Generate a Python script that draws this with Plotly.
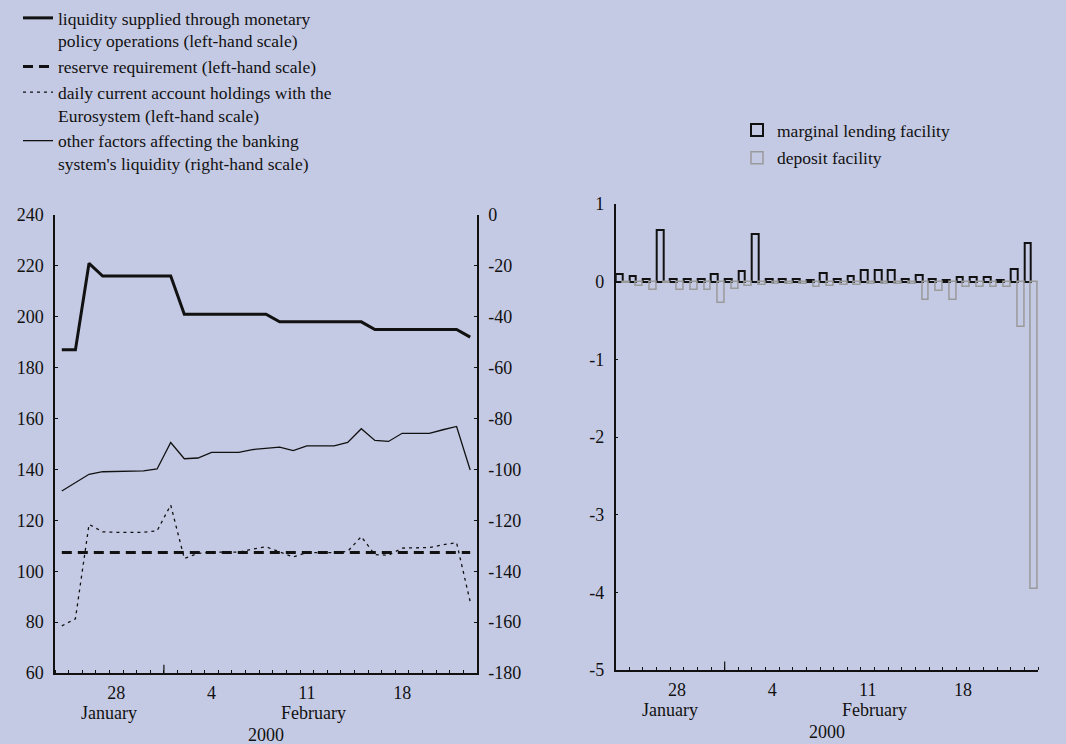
import plotly.graph_objects as go
import pandas as pd

# ---------------- data ----------------
dates = pd.date_range("2000-01-24", "2000-02-23", freq="D")

# left-hand scale (EUR billions)
liquidity_supplied = [187, 187, 221, 216, 216, 216, 216, 216, 216, 201, 201, 201, 201, 201, 201, 201,
                      198, 198, 198, 198, 198, 198, 198, 195, 195, 195, 195, 195, 195, 195, 192]
reserve_requirement = [107.4] * 31
current_account = [78.5, 81.3, 118.4, 115.5, 115.3, 115.3, 115.3, 115.9, 126.0, 105.0, 107.0, 107.5,
                   107.4, 107.5, 108.7, 109.6, 107.6, 105.6, 107.3, 107.3, 107.3, 107.8, 113.6, 106.5,
                   106.3, 109.1, 109.2, 109.3, 110.4, 111.2, 88.0]
# right-hand scale
other_factors = [-108.5, -105.2, -101.9, -100.9, -100.8, -100.8, -100.6, -99.8, -89.4, -95.8, -95.5,
                 -93.3, -93.3, -93.3, -92.2, -91.7, -91.2, -92.6, -90.7, -90.7, -90.7, -89.4, -84.0,
                 -88.6, -89.0, -85.8, -85.8, -85.8, -84.4, -83.1, -100.2]

# standing facilities (right panel)
marginal_lending = [0.10, 0.07, 0.03, 0.66, 0.03, 0.03, 0.035, 0.10, 0.04, 0.14, 0.61, 0.03, 0.03,
                    0.03, 0.02, 0.115, 0.03, 0.077, 0.146, 0.146, 0.146, 0.04, 0.08, 0.04, 0.017,
                    0.06, 0.06, 0.06, 0.026, 0.16, 0.50]
deposit = [-0.02, -0.06, -0.11, -0.02, -0.107, -0.107, -0.107, -0.28, -0.10, -0.05, -0.047, -0.034,
           -0.034, -0.034, -0.064, -0.05, -0.047, -0.047, -0.034, -0.034, -0.034, -0.034, -0.24,
           -0.124, -0.23, -0.073, -0.073, -0.073, -0.064, -0.58, -3.96]

left_ticks = [60, 80, 100, 120, 140, 160, 180, 200, 220, 240]
right_ticks = [0, -20, -40, -60, -80, -100, -120, -140, -160, -180]
facility_ticks = [1, 0, -1, -2, -3, -4, -5]
day_labels = ["28", "4", "11", "18"]
label_days = [pd.Timestamp("2000-01-28"), pd.Timestamp("2000-02-04"),
              pd.Timestamp("2000-02-11"), pd.Timestamp("2000-02-18")]

legend_names = [
    "liquidity supplied through monetary<br>policy operations (left-hand scale)",
    "reserve requirement (left-hand scale)",
    "daily current account holdings with the<br>Eurosystem (left-hand scale)",
    "other factors affecting the banking<br>system's liquidity (right-hand scale)",
]
facility_names = ["marginal lending facility", "deposit facility"]

# ---------------- style ----------------
BG = "#c5cae4"
INK = "#111111"
GREY = "#9a9a9a"
FONT = "Liberation Serif"
FS = 18
LFS = 17.5
half_day = pd.Timedelta(hours=12)
x_start = dates[0] - half_day
x_end = dates[-1] + half_day
month_break = dates[7] + half_day

def hyph(v):
    return str(v).replace("\u2212", "-")

fig = go.Figure()
fig.add_trace(go.Scatter(x=dates, y=liquidity_supplied, mode="lines", name=legend_names[0],
                         line=dict(color=INK, width=3), xaxis="x", yaxis="y", legend="legend"))
fig.add_trace(go.Scatter(x=dates, y=reserve_requirement, mode="lines", name=legend_names[1],
                         line=dict(color=INK, width=3, dash="10px,6px"), xaxis="x", yaxis="y",
                         legend="legend"))
fig.add_trace(go.Scatter(x=dates, y=current_account, mode="lines", name=legend_names[2],
                         line=dict(color=INK, width=1.3, dash="3px,4px"), xaxis="x", yaxis="y",
                         legend="legend"))
fig.add_trace(go.Scatter(x=dates, y=other_factors, mode="lines", name=legend_names[3],
                         line=dict(color=INK, width=1.3), xaxis="x", yaxis="y2", legend="legend"))
fig.add_trace(go.Bar(x=dates, y=marginal_lending, name=facility_names[0],
                     marker=dict(color="rgba(0,0,0,0)", line=dict(color=INK, width=2)),
                     xaxis="x2", yaxis="y3", legend="legend2", legendgroup="ml"))
fig.add_trace(go.Bar(x=dates, y=deposit, name=facility_names[1],
                     marker=dict(color="rgba(0,0,0,0)", line=dict(color=GREY, width=1.5)),
                     xaxis="x2", yaxis="y3", legend="legend2", legendgroup="dp"))

tickfont = dict(family=FONT, size=FS, color=INK)

def xaxis(domain, anchor):
    return dict(type="date", domain=domain, anchor=anchor, range=[x_start, x_end],
                showline=True, linecolor=INK, linewidth=1.5, showgrid=False, zeroline=False,
                tickmode="array", tickvals=label_days, ticktext=day_labels, ticks="",
                tickfont=tickfont, ticklabelstandoff=3, automargin=False,
                minor=dict(ticks="inside", ticklen=3, tickwidth=1, tickcolor=INK,
                           tickmode="linear", tick0=x_start, dtick=86400000, showgrid=False))

def yaxis(domain, anchor, rng, vals, side="left", overlaying=None, zeroline=False):
    d = dict(domain=domain, anchor=anchor, range=rng, side=side, showline=True, linecolor=INK,
             linewidth=1.5, showgrid=False, zeroline=zeroline, tickmode="array", tickvals=vals,
             ticktext=[hyph(v) for v in vals], ticks="inside", ticklen=3, tickcolor=INK,
             tickfont=tickfont, ticklabelstandoff=6, automargin=False)
    if overlaying:
        d["overlaying"] = overlaying
    return d

L_DOM = [55 / 1066, 477 / 1066]
R_DOM = [615.7 / 1066, 1038 / 1066]
L_YDOM = [(744 - 673) / 744, (744 - 215) / 744]
R_YDOM = [(744 - 670) / 744, (744 - 204) / 744]

fig.update_layout(
    template=None,
    width=1066, height=744,
    margin=dict(l=0, r=0, t=0, b=0),
    paper_bgcolor=BG, plot_bgcolor=BG,
    font=dict(family=FONT, size=FS, color=INK),
    barmode="group", bargap=0, bargroupgap=0,
    xaxis=xaxis(L_DOM, "y"),
    yaxis=yaxis(L_YDOM, "x", [60, 240], left_ticks),
    yaxis2=yaxis(L_YDOM, "x", [-180, 0], right_ticks, side="right", overlaying="y"),
    xaxis2=xaxis(R_DOM, "y3"),
    yaxis3=yaxis(R_YDOM, "x2", [-5, 1], facility_ticks, zeroline=True),
    yaxis4=yaxis(R_YDOM, "x2", [-5, 1], facility_ticks, side="right", overlaying="y3"),
    legend=dict(x=18 / 1066, y=1.0, xanchor="left", yanchor="top", bgcolor="rgba(0,0,0,0)",
                font=dict(family=FONT, size=LFS, color=INK), valign="top", tracegroupgap=0,
                itemwidth=30),
    legend2=dict(x=737 / 1066, y=1 - 112 / 744, xanchor="left", yanchor="top",
                 bgcolor="rgba(0,0,0,0)", font=dict(family=FONT, size=LFS, color=INK),
                 tracegroupgap=2, itemwidth=30),
    showlegend=True,
)
fig.update_layout(yaxis3=dict(zerolinecolor=GREY, zerolinewidth=1))

# month-boundary tick and month/year labels under each panel
for xref, yref in (("x", "y"), ("x2", "y3")):
    fig.add_shape(type="line", xref=xref, yref=f"{yref} domain", x0=month_break, x1=month_break,
                  y0=0, y1=0.018, line=dict(color=INK, width=1.2))
    for txt, when, shift in (("January", dates[3] + half_day, -40),
                             ("February", dates[18] + half_day, -40),
                             ("2000", dates[15], -62)):
        fig.add_annotation(x=when, y=0, xref=xref, yref=f"{yref} domain", text=txt,
                           showarrow=False, yanchor="middle", yshift=shift,
                           font=dict(family=FONT, size=FS, color=INK))

fig.write_html("out.html", config={"displayModeBar": False},
               post_script="document.body.style.margin='0';document.body.style.overflow='hidden';")
